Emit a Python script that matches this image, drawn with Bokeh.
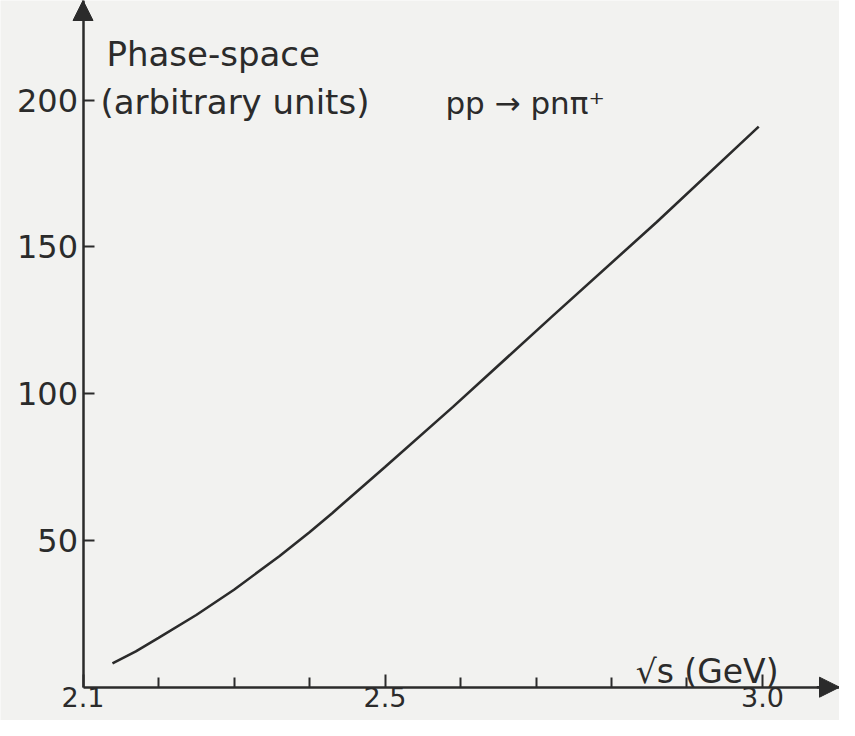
from bokeh.plotting import figure
from bokeh.models import Range1d, FixedTicker, Arrow, NormalHead, Label, LinearAxis
from bokeh.embed import file_html
from bokeh.resources import INLINE

# ---- data ----
sqrt_s = [2.139, 2.17, 2.20, 2.25, 2.30, 2.36, 2.40, 2.43, 2.50, 2.59, 2.72, 2.86, 2.995]
phase_space = [8.1, 12.2, 16.8, 24.6, 33.2, 44.6, 52.8, 59.3, 75.0, 95.5, 126.0, 158.5, 191.0]

x_major_ticks = [2.1, 2.5, 3.0]
x_major_labels = ["2.1", "2.5", "3.0"]
x_minor_ticks = [2.2, 2.3, 2.4, 2.6, 2.7, 2.8, 2.9]
y_ticks = [50, 100, 150, 200]
y_labels = ["50", "100", "150", "200"]

# axis origin and visible extent
x_origin, x_end = 2.1, 3.102
y_origin, y_end = 0, 233.97

ink = "#2b2b2b"
paper = "#f2f2f0"
font = "DejaVu Sans"

p = figure(width=839, height=720, output_backend="svg", toolbar_location=None,
           x_range=Range1d(1.9907, x_end), y_range=Range1d(-11.35, y_end),
           x_axis_location=None, y_axis_location=None, min_border=0)

p.background_fill_color = paper
p.border_fill_color = paper
p.outline_line_color = None
p.xgrid.visible = False
p.ygrid.visible = False

# x axis, crossing at y = 0
xa = LinearAxis(fixed_location=y_origin, bounds=(x_origin, x_end))
xa.ticker = FixedTicker(ticks=x_major_ticks, minor_ticks=x_minor_ticks)
xa.major_label_overrides = dict(zip(x_major_ticks, x_major_labels))
xa.axis_line_color = ink
xa.axis_line_width = 2.5
xa.major_tick_line_color = ink
xa.major_tick_line_width = 2
xa.major_tick_in = 13
xa.major_tick_out = 0
xa.minor_tick_line_color = ink
xa.minor_tick_line_width = 2
xa.minor_tick_in = 10
xa.minor_tick_out = 0
xa.major_label_standoff = 0
xa.major_label_text_font = font
xa.major_label_text_font_size = "27px"
xa.major_label_text_color = ink
p.add_layout(xa, "below")

# y axis, crossing at x = 2.1
ya = LinearAxis(fixed_location=x_origin, bounds=(y_origin, y_end))
ya.ticker = FixedTicker(ticks=y_ticks, minor_ticks=[])
ya.major_label_overrides = dict(zip(y_ticks, y_labels))
ya.axis_line_color = ink
ya.axis_line_width = 2.5
ya.major_tick_line_color = ink
ya.major_tick_line_width = 2
ya.major_tick_in = 11
ya.major_tick_out = 0
ya.minor_tick_line_color = None
ya.major_label_standoff = 5
ya.major_label_text_font = font
ya.major_label_text_font_size = "32px"
ya.major_label_text_color = ink
p.add_layout(ya, "left")

# curve
p.line(sqrt_s, phase_space, line_color=ink, line_width=2.6)

# axis arrow heads
p.add_layout(Arrow(end=NormalHead(size=20, fill_color=ink, line_color=ink),
                   x_start=x_origin, y_start=y_end - 6, x_end=x_origin, y_end=y_end,
                   line_color=ink, line_width=2.5))
p.add_layout(Arrow(end=NormalHead(size=20, fill_color=ink, line_color=ink),
                   x_start=x_end - 0.03, y_start=y_origin, x_end=x_end, y_end=y_origin,
                   line_color=ink, line_width=2.5))

# texts
def lab(x, y, t, size):
    p.add_layout(Label(x=x, y=y, text=t, text_font=font, text_font_size=size,
                       text_color=ink, text_baseline="alphabetic", text_align="left"))

lab(2.131, 215.9, "Phase-space", "34px")
lab(2.123, 199.5, "(arbitrary units)", "34px")
lab(2.58, 199.0, "pp → pnπ⁺", "31px")
lab(2.832, 5.5, "√s (GeV)", "33px")

open("out.html", "w").write(file_html(p, INLINE))
